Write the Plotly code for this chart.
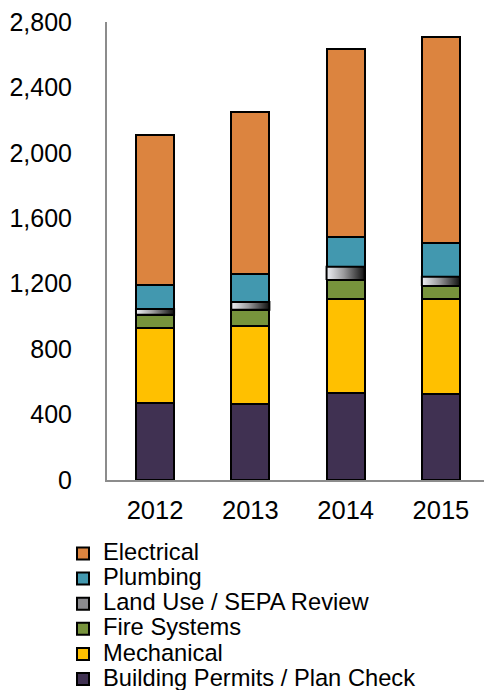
import plotly.graph_objects as go

# Permit counts by year and review type
years = ["2012", "2013", "2014", "2015"]
building_permits = [470, 463, 532, 524]
mechanical = [461, 480, 575, 583]
fire_systems = [80, 98, 116, 79]
land_use = [34, 47, 81, 57]
plumbing = [145, 170, 184, 204]
electrical = [917, 989, 1144, 1263]

x_pos = list(range(len(years)))
bar_width = 0.4
FONT = "Liberation Sans, Arial, sans-serif"
LEGEND_TEXT_PX = 23.7


def label(text):
    return f'<span style="font-size:{LEGEND_TEXT_PX}px">{text}</span>'


series = [
    ("Building Permits / Plan Check", building_permits, "#403152"),
    ("Mechanical", mechanical, "#FFC000"),
    ("Fire Systems", fire_systems, "#77933C"),
    ("Land Use / SEPA Review", land_use, "#8a8a8e"),
    ("Plumbing", plumbing, "#4298AF"),
    ("Electrical", electrical, "#DC843F"),
]

fig = go.Figure()
for name, vals, color in series:
    fig.add_trace(go.Bar(
        x=x_pos, y=vals, name=label(name), width=bar_width,
        marker=dict(color=color, line=dict(color="black", width=2)),
        hoverinfo="skip",
    ))

# Land Use segments get a horizontal light-to-dark gradient fill
base_land = [b + m + f for b, m, f in zip(building_permits, mechanical, fire_systems)]
for xi, y0, h in zip(x_pos, base_land, land_use):
    x0, x1 = xi - bar_width / 2, xi + bar_width / 2
    fig.add_trace(go.Scatter(
        x=[x0, x1, x1, x0, x0], y=[y0, y0, y0 + h, y0 + h, y0],
        mode="lines", fill="toself",
        fillgradient=dict(type="horizontal",
                          colorscale=[[0, "#eef0f5"], [0.45, "#9a9a9c"], [1, "#111111"]]),
        line=dict(color="black", width=2),
        showlegend=False, hoverinfo="skip",
    ))

fig.update_layout(
    width=484, height=690,
    margin=dict(l=107, r=0, t=21.5, b=210, autoexpand=False),
    barmode="stack",
    plot_bgcolor="white", paper_bgcolor="white",
    font=dict(family=FONT, color="black"),
    showlegend=True,
    legend=dict(
        traceorder="reversed",
        orientation="v",
        x=(63 - 107) / 377, xanchor="left",
        y=(480 - 536) / 458.5, yanchor="top",
        font=dict(size=17, family=FONT, color="black"),
        bgcolor="rgba(0,0,0,0)",
    ),
    xaxis=dict(
        range=[-0.504, 3.452],
        tickvals=x_pos, ticktext=years,
        showgrid=False, zeroline=False,
        showline=True, linecolor="#8c8c8c", linewidth=2,
        ticks="", ticklabelstandoff=6,
        tickfont=dict(size=25.5, family=FONT, color="black"),
    ),
    yaxis=dict(
        range=[0, 2800],
        tickvals=[0, 400, 800, 1200, 1600, 2000, 2400, 2800],
        tickformat=",d",
        showgrid=False, zeroline=False,
        showline=True, linecolor="#8c8c8c", linewidth=2,
        ticks="", ticklabelstandoff=28,
        tickfont=dict(size=25, family=FONT, color="black"),
    ),
)

fig.write_html("out.html")
